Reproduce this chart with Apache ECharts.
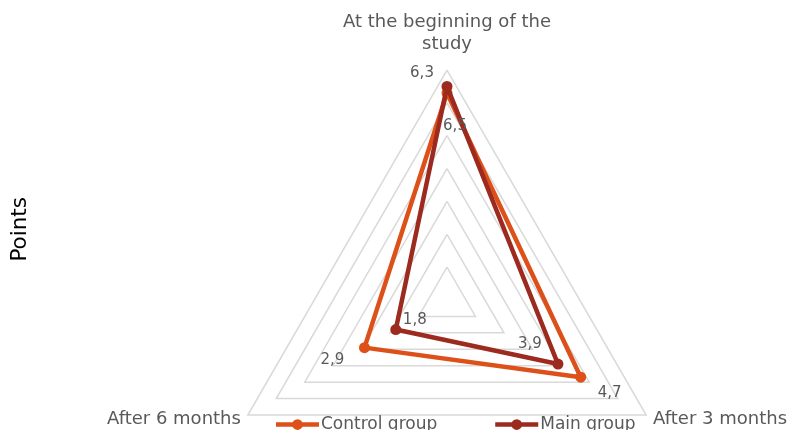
<!DOCTYPE html>
<html lang="en">
<head>
    <meta charset="utf-8">
    <title>Points</title>
    <script src="https://cdn.jsdelivr.net/npm/echarts@6/dist/echarts.min.js"></script>
    <style>
        html, body { margin: 0; padding: 0; background: #fff; }
        #box { width: 798px; height: 430px; }
    </style>
</head>
<body>
    <div id="box"></div>
    <script>
        // indicator order as ECharts places them: top, then lower-left, then lower-right
        var categories = ['At the beginning of the\nstudy', 'After 6 months', 'After 3 months'];
        var controlGroup = [6.3, 2.9, 4.7];
        var mainGroup = [6.5, 1.8, 3.9];
        var seriesNames = ['Control group', 'Main group'];

        var colors = ['#dd5019', '#9c2a1e'];
        // where each value label sits, relative to its point
        var labelOffsets = [
            [[-25, -20], [-32, 12], [29, 16]],
            [[8, 40], [19, -9], [-28, -20]]
        ];

        var groups = [controlGroup, mainGroup];
        var series = [];

        // the two polygons
        groups.forEach(function (vals, g) {
            series.push({
                name: seriesNames[g],
                type: 'radar',
                symbol: 'circle',
                symbolSize: 11,
                z: 2 + g,
                lineStyle: { width: 4.5, color: colors[g] },
                itemStyle: { color: colors[g] },
                data: [{ value: vals, name: seriesNames[g] }]
            });
        });

        // value labels, one invisible copy per vertex so each label can sit on its own side
        groups.forEach(function (vals, g) {
            vals.forEach(function (v, i) {
                series.push({
                    type: 'radar',
                    symbol: 'circle',
                    symbolSize: 1,
                    silent: true,
                    z: 5,
                    lineStyle: { opacity: 0 },
                    itemStyle: { color: 'rgba(0,0,0,0)' },
                    label: {
                        show: true,
                        position: 'inside',
                        offset: labelOffsets[g][i],
                        color: '#595959',
                        fontSize: 15,
                        fontFamily: 'DejaVu Sans',
                        formatter: function (p) {
                            return p.value === v ? String(v).replace('.', ',') : '';
                        }
                    },
                    data: [{ value: vals }]
                });
            });
        });

        // legend mark: a line with a dot in the middle
        var legendIcon = 'path://M0,3 L16,3 L16,7 L0,7 Z M24,3 L40,3 L40,7 L24,7 Z ' +
            'M25,5 A5,5 0 1,1 15,5 A5,5 0 1,1 25,5 Z';

        var nameStyle = { color: '#595959', fontSize: 18, fontFamily: 'DejaVu Sans', lineHeight: 22 };

        var myChart = echarts.init(document.getElementById('box'));

        var option = {
            animation: false,
            textStyle: { fontFamily: 'DejaVu Sans' },
            graphic: [{
                type: 'text',
                left: 9,
                top: 197,
                rotation: Math.PI / 2,
                style: { text: 'Points', fontSize: 21.5, fill: '#000', fontFamily: 'DejaVu Sans' }
            }],
            legend: {
                bottom: -8,
                left: 271,
                itemGap: 58,
                itemWidth: 43,
                itemHeight: 11,
                icon: legendIcon,
                data: seriesNames,
                textStyle: { color: '#595959', fontSize: 17, padding: [0, 0, 0, -3] }
            },
            radar: {
                center: [447, 300],
                radius: 230,
                shape: 'polygon',
                splitNumber: 7,
                nameGap: 8,
                indicator: categories.map(function (c) { return { name: c, min: 0, max: 7 }; }),
                axisName: {
                    color: '#595959',
                    fontSize: 18,
                    lineHeight: 22,
                    formatter: function (name) {
                        var lines = name.split('\n');
                        if (lines.length === 1) return name;
                        return lines.map(function (l, k) {
                            return (k === lines.length - 1 ? '{b|' : '{a|') + l + '}';
                        }).join('\n');
                    },
                    rich: {
                        a: nameStyle,
                        b: Object.assign({}, nameStyle, { lineHeight: 29, verticalAlign: 'top', padding: [2, 0, 0, 0] })
                    }
                },
                axisLine: { show: false },
                splitArea: { show: false },
                splitLine: { lineStyle: { color: '#d9d9d9', width: 1.5 } }
            },
            series: series
        };
        myChart.setOption(option, true);
    </script>
</body>
</html>
